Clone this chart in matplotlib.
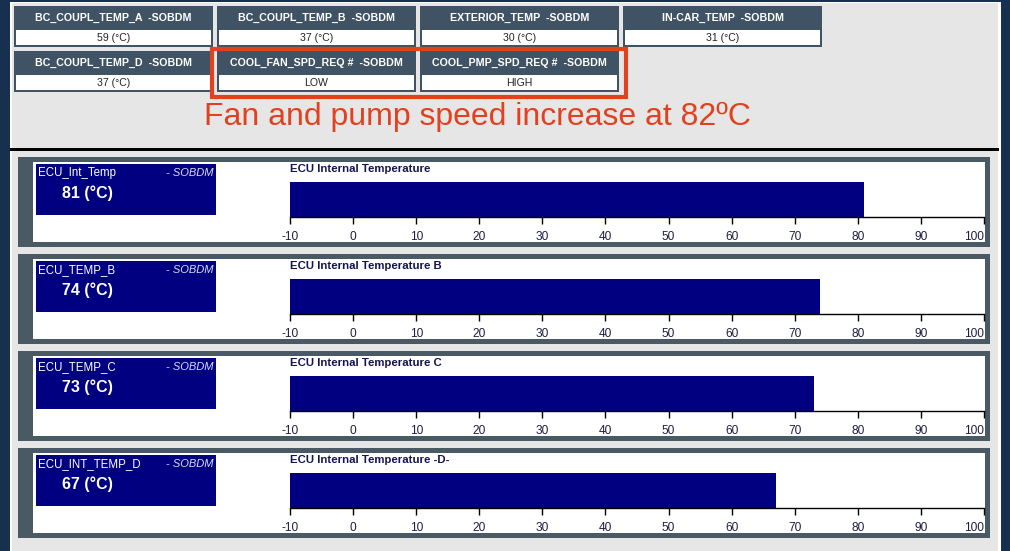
import matplotlib
matplotlib.use("Agg")
import matplotlib.pyplot as plt
from matplotlib.patches import Rectangle

plt.rcParams["font.family"] = ["Liberation Sans", "DejaVu Sans"]

# ── Data ──────────────────────────────────────────────────────────────────────

TILE_NAMES = [
    "BC_COUPL_TEMP_A  -SOBDM", "BC_COUPL_TEMP_B  -SOBDM",
    "EXTERIOR_TEMP  -SOBDM", "IN-CAR_TEMP  -SOBDM",
    "BC_COUPL_TEMP_D  -SOBDM", "COOL_FAN_SPD_REQ #  -SOBDM",
    "COOL_PMP_SPD_REQ #  -SOBDM",
]
TILE_VALUES = ["59 (°C)", "37 (°C)", "30 (°C)", "31 (°C)", "37 (°C)", "LOW", "HIGH"]

NOTE = "Fan and pump speed increase at 82ºC"

SIGNALS = ["ECU_Int_Temp", "ECU_TEMP_B", "ECU_TEMP_C", "ECU_INT_TEMP_D"]
CHART_TITLES = ["ECU Internal Temperature", "ECU Internal Temperature B",
                "ECU Internal Temperature C", "ECU Internal Temperature -D-"]
TEMPS = [81, 74, 73, 67]
AXIS_MIN, AXIS_MAX = -10, 100
TICKS = [-10, 0, 10, 20, 30, 40, 50, 60, 70, 80, 90, 100]

# ── Style ─────────────────────────────────────────────────────────────────────

W, H = 1010, 551
BG = "#e6e6e6"
EDGE = "#17304f"
TILE = "#3f5364"
FRAME = "#4a5a65"
NAVY = "#000080"
RED = "#e2401f"

fig = plt.figure(figsize=(W / 100, H / 100), dpi=100)
fig.patch.set_facecolor(EDGE)

# full-figure pixel canvas, y down
bg = fig.add_axes([0, 0, 1, 1])
bg.set_xlim(0, W)
bg.set_ylim(H, 0)
bg.axis("off")


def rect(x0, y0, x1, y1, **kw):
    bg.add_patch(Rectangle((x0, y0), x1 - x0, y1 - y0, **kw))


rect(10, 2, 1001, H, facecolor="white", edgecolor="none")
rect(12, 3, 998, H, facecolor=BG, edgecolor="none")

# ── Top tiles ─────────────────────────────────────────────────────────────────

tile_pos = [(0, 0), (0, 1), (0, 2), (0, 3), (1, 0), (1, 1), (1, 2)]
for (row, col), name, val in zip(tile_pos, TILE_NAMES, TILE_VALUES):
    x0 = 14 + col * 203
    y0 = 6 + row * 45
    rect(x0, y0, x0 + 199, y0 + 41, facecolor=TILE, edgecolor="none")
    rect(x0 + 2, y0 + 24, x0 + 197, y0 + 39, facecolor="white", edgecolor="none")
    bg.text(x0 + 99.5, y0 + 12, name, color="white", fontsize=7.7,
            fontweight="bold", ha="center", va="center")
    bg.text(x0 + 99.5, y0 + 32, val, color="#222222", fontsize=7.6,
            ha="center", va="center")

# highlight box + note
rect(211.5, 48.5, 625.5, 96.5, facecolor="none", edgecolor=RED, linewidth=3)
bg.text(204, 117, NOTE, color=RED, fontsize=23, ha="left", va="center")

# separator
rect(10, 148, 999, 151, facecolor="black", edgecolor="none")

# ── Gauge panels ──────────────────────────────────────────────────────────────

x_lo, x_hi = 290, 984  # pixel positions of AXIS_MIN / AXIS_MAX
for i, (sig, title, temp) in enumerate(zip(SIGNALS, CHART_TITLES, TEMPS)):
    top = 157 + i * 97
    rect(18, top, 990, top + 90, facecolor=FRAME, edgecolor="none")
    rect(33, top + 5, 985, top + 85, facecolor="white", edgecolor="none")
    rect(36, top + 7, 216, top + 58, facecolor=NAVY, edgecolor="none")
    bg.text(38, top + 16, sig, color="white", fontsize=8.3, ha="left", va="center")
    bg.text(214, top + 16, "- SOBDM", color="#dcdcf0", fontsize=8,
            style="italic", ha="right", va="center")
    bg.text(62, top + 36, f"{temp} (°C)", color="white", fontsize=11.5,
            fontweight="bold", ha="left", va="center")
    bg.text(290, top + 12, title, color="#141450", fontsize=8.2,
            fontweight="bold", ha="left", va="center")

    # bar axes
    y_top, y_bot = top + 25, top + 60
    ax = fig.add_axes([x_lo / W, 1 - y_bot / H, (x_hi - x_lo) / W, (y_bot - y_top) / H])
    ax.barh(0.5, temp - AXIS_MIN, left=AXIS_MIN, height=1.0, color=NAVY)
    ax.set_xlim(AXIS_MIN, AXIS_MAX)
    ax.set_ylim(0, 1)
    ax.patch.set_alpha(0)
    for side in ("left", "right", "top"):
        ax.spines[side].set_visible(False)
    ax.spines["bottom"].set_linewidth(1.0)
    ax.set_yticks([])
    ax.set_xticks(TICKS)
    ax.set_xticklabels([str(t) for t in TICKS])
    ax.tick_params(axis="x", length=5, width=1.0, pad=5, labelsize=8.6,
                   labelcolor="#1e1e40")
    ax.get_xticklabels()[-1].set_horizontalalignment("right")

fig.savefig("out.png", dpi=100)
